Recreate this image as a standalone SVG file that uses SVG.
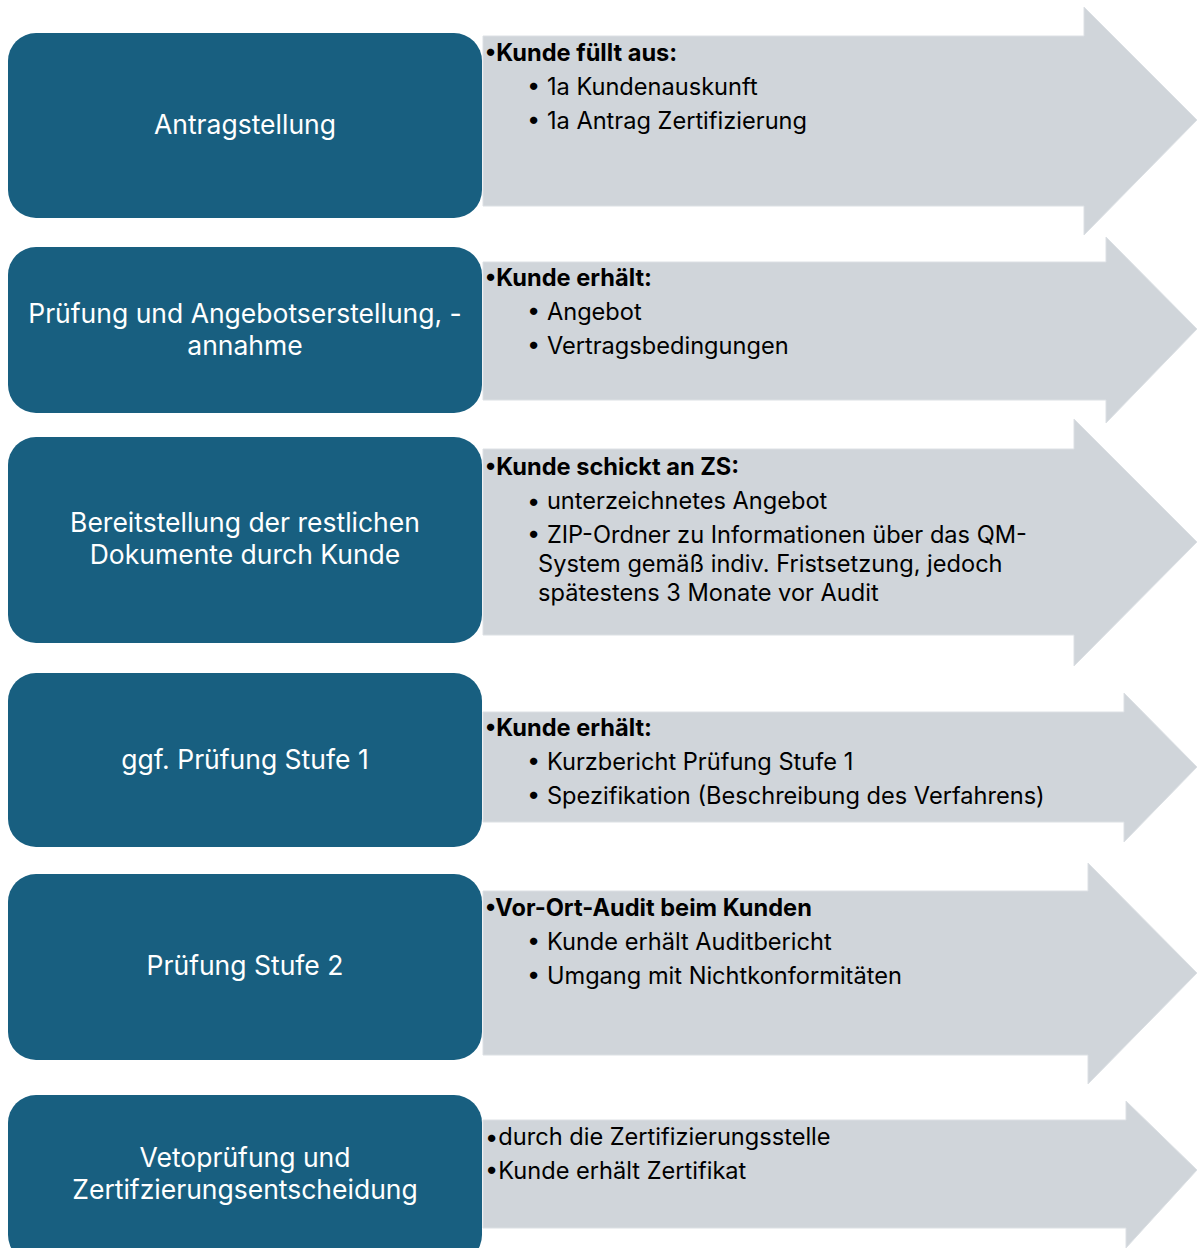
<svg xmlns="http://www.w3.org/2000/svg" width="1197" height="1248" viewBox="0 0 1197 1248">
<style>
.box{fill:#185F80;}
.arr{fill:#D0D5DA;stroke:#DCE0E4;stroke-width:1;}
.lbl{font-family:Inter,"Noto Sans","Liberation Sans",sans-serif;font-size:26.5px;fill:#FFFFFF;text-anchor:middle;}
.t{font-family:Inter,"Noto Sans","Liberation Sans",sans-serif;font-size:23.6px;fill:#000000;}
.b{font-weight:bold;}
</style>
<rect width="1197" height="1248" fill="#FFFFFF"/>
<g id="connectors">
<path class="arr" d="M483,36 H1084 V7 L1197,120 L1084,235 V206 H483 Z"/>
<path class="arr" d="M483,262 H1106 V237 L1197,329 L1106,423 V400 H483 Z"/>
<path class="arr" d="M483,449 H1074 V419 L1197,542 L1074,666 V635 H483 Z"/>
<path class="arr" d="M483,712 H1124 V693 L1197,767 L1124,842 V822 H483 Z"/>
<path class="arr" d="M483,891 H1088 V863 L1197,973 L1088,1084 V1055 H483 Z"/>
<path class="arr" d="M483,1120 H1126 V1101 L1197,1170 L1126,1248 V1228 H483 Z"/>
</g>
<g id="node1">
<rect class="box" x="8" y="33" width="474" height="185" rx="28"/>
<text class="lbl" x="245" y="134">Antragstellung</text>
<text class="t" x="485" y="61"><tspan class="b">•Kunde füllt aus:</tspan></text>
<text class="t" x="527" y="95">• 1a Kundenauskunft</text>
<text class="t" x="527" y="129">• 1a Antrag Zertifizierung</text>
</g>
<g id="node2">
<rect class="box" x="8" y="247" width="474" height="166" rx="28"/>
<text class="lbl" x="245" y="323">Prüfung und Angebotserstellung, -</text>
<text class="lbl" x="245" y="355">annahme</text>
<text class="t" x="485" y="286"><tspan class="b">•Kunde erhält:</tspan></text>
<text class="t" x="527" y="320">• Angebot</text>
<text class="t" x="527" y="354">• Vertragsbedingungen</text>
</g>
<g id="node3">
<rect class="box" x="8" y="437" width="474" height="206" rx="28"/>
<text class="lbl" x="245" y="532">Bereitstellung der restlichen</text>
<text class="lbl" x="245" y="564">Dokumente durch Kunde</text>
<text class="t" x="485" y="475"><tspan class="b">•Kunde schickt an ZS:</tspan></text>
<text class="t" x="527" y="509">• unterzeichnetes Angebot</text>
<text class="t" x="527" y="543">• ZIP-Ordner zu Informationen über das QM-</text>
<text class="t" x="538" y="572">System gemäß indiv. Fristsetzung, jedoch</text>
<text class="t" x="538" y="601">spätestens 3 Monate vor Audit</text>
</g>
<g id="node4">
<rect class="box" x="8" y="673" width="474" height="174" rx="28"/>
<text class="lbl" x="245" y="769">ggf. Prüfung Stufe 1</text>
<text class="t" x="485" y="736"><tspan class="b">•Kunde erhält:</tspan></text>
<text class="t" x="527" y="770">• Kurzbericht Prüfung Stufe 1</text>
<text class="t" x="527" y="804">• Spezifikation (Beschreibung des Verfahrens)</text>
</g>
<g id="node5">
<rect class="box" x="8" y="874" width="474" height="186" rx="28"/>
<text class="lbl" x="245" y="975">Prüfung Stufe 2</text>
<text class="t" x="485" y="916"><tspan class="b">•Vor-Ort-Audit beim Kunden</tspan></text>
<text class="t" x="527" y="950">• Kunde erhält Auditbericht</text>
<text class="t" x="527" y="984">• Umgang mit Nichtkonformitäten</text>
</g>
<g id="node6">
<rect class="box" x="8" y="1095" width="474" height="168" rx="28"/>
<text class="lbl" x="245" y="1167">Vetoprüfung und</text>
<text class="lbl" x="245" y="1199">Zertifzierungsentscheidung</text>
<text class="t" x="485" y="1145">•durch die Zertifizierungsstelle</text>
<text class="t" x="485" y="1179">•Kunde erhält Zertifikat</text>
</g>
</svg>
